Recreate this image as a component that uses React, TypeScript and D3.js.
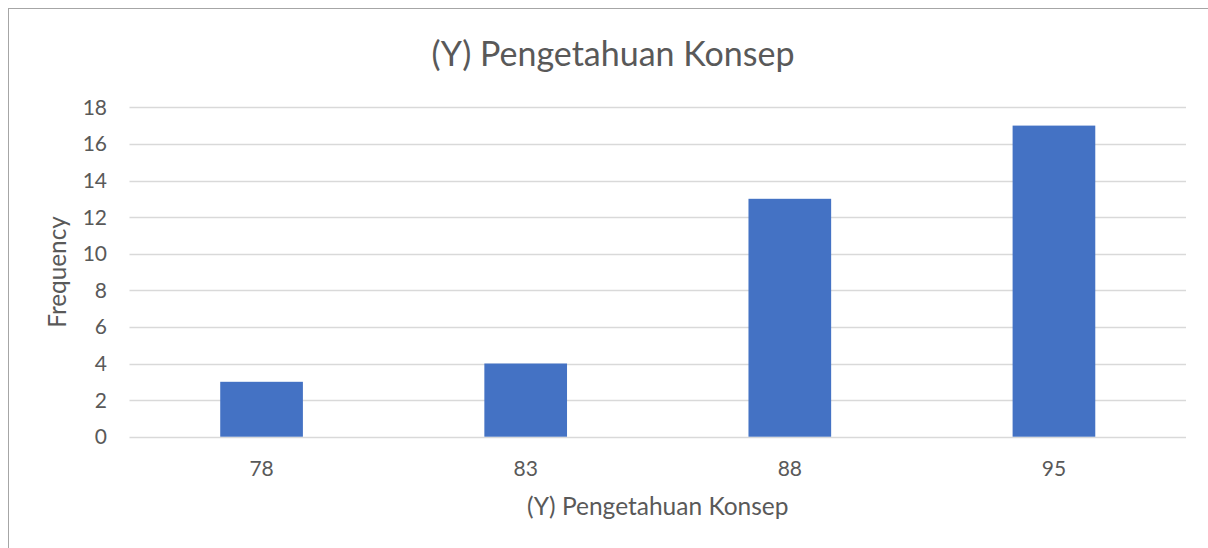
import React, { useEffect, useRef } from 'react';
import * as d3 from 'd3';

const categories = ['78', '83', '88', '95'];
const frequencies = [3, 4, 13, 17];
const yTicks = [0, 2, 4, 6, 8, 10, 12, 14, 16, 18];
const chartTitle = '(Y) Pengetahuan Konsep';
const xTitle = '(Y) Pengetahuan Konsep';
const yTitle = 'Frequency';

const App = () => {
  const svgRef = useRef<SVGSVGElement>(null);

  useEffect(() => {
    const width = 1208;
    const height = 548;
    const plot = { left: 129.5, right: 1186, top: 107.3, bottom: 436.7 };
    const font = 'Lato, "Open Sans", sans-serif';
    const textColor = '#595959';

    const svg = d3.select(svgRef.current)
      .attr('width', width)
      .attr('height', height);
    svg.selectAll('*').remove();

    // chart frame
    svg.append('rect')
      .attr('x', 8.5)
      .attr('y', 8.5)
      .attr('width', width + 20)
      .attr('height', height + 20)
      .attr('fill', '#fff')
      .attr('stroke', '#a6a6a6')
      .attr('stroke-width', 1);

    const x = d3.scaleBand()
      .domain(categories)
      .range([plot.left, plot.right])
      .paddingInner(0.687)
      .paddingOuter(0.3435);

    const y = d3.scaleLinear()
      .domain([0, 18])
      .range([plot.bottom, plot.top]);

    // gridlines
    svg.append('g')
      .selectAll('line')
      .data(yTicks)
      .enter()
      .append('line')
      .attr('x1', plot.left)
      .attr('x2', plot.right)
      .attr('y1', d => Math.round(y(d)) + 0.5)
      .attr('y2', d => Math.round(y(d)) + 0.5)
      .attr('stroke', '#d9d9d9')
      .attr('stroke-width', 1.3);

    // bars
    svg.append('g')
      .selectAll('rect')
      .data(frequencies)
      .enter()
      .append('rect')
      .attr('x', (d, i) => x(categories[i]) as number)
      .attr('y', d => y(d))
      .attr('width', x.bandwidth())
      .attr('height', d => y(0) - y(d))
      .attr('fill', '#4472c4');

    // y tick labels
    svg.append('g')
      .selectAll('text')
      .data(yTicks)
      .enter()
      .append('text')
      .attr('x', 107)
      .attr('y', d => y(d))
      .attr('dy', '0.36em')
      .attr('text-anchor', 'end')
      .attr('font-family', font)
      .attr('font-size', 21)
      .attr('fill', textColor)
      .text(d => d);

    // x tick labels
    svg.append('g')
      .selectAll('text')
      .data(categories)
      .enter()
      .append('text')
      .attr('x', d => (x(d) as number) + x.bandwidth() / 2)
      .attr('y', 476)
      .attr('text-anchor', 'middle')
      .attr('font-family', font)
      .attr('font-size', 21)
      .attr('fill', textColor)
      .text(d => d);

    // chart title
    svg.append('text')
      .attr('x', 613)
      .attr('y', 66)
      .attr('text-anchor', 'middle')
      .attr('font-family', font)
      .attr('font-size', 34)
      .attr('fill', textColor)
      .text(chartTitle);

    // x axis title
    svg.append('text')
      .attr('x', (plot.left + plot.right) / 2)
      .attr('y', 515)
      .attr('text-anchor', 'middle')
      .attr('font-family', font)
      .attr('font-size', 24.5)
      .attr('fill', textColor)
      .text(xTitle);

    // y axis title
    svg.append('text')
      .attr('transform', `translate(66,${(plot.top + plot.bottom) / 2}) rotate(-90)`)
      .attr('text-anchor', 'middle')
      .attr('font-family', font)
      .attr('font-size', 24.3)
      .attr('fill', textColor)
      .text(yTitle);
  }, []);

  return (
    <svg ref={svgRef} style={{ position: 'absolute', left: 0, top: 0, display: 'block' }}></svg>
  );
};

export default App;
